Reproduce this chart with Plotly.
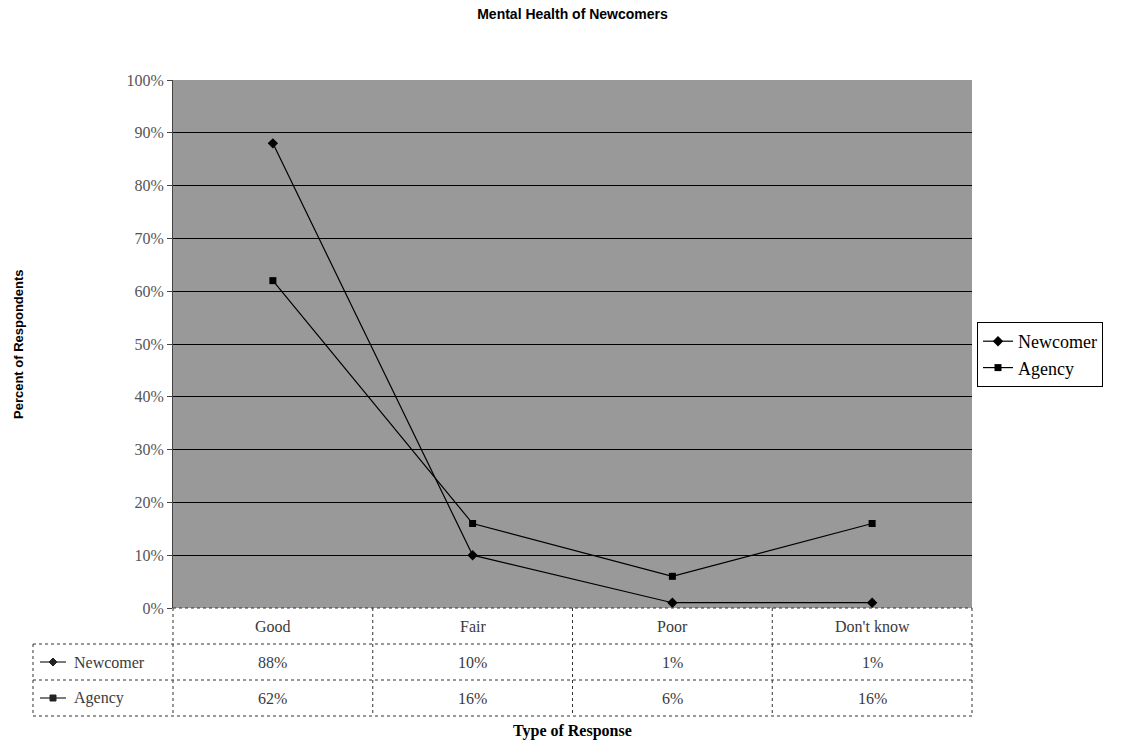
import plotly.graph_objects as go

categories = ["Good", "Fair", "Poor", "Don't know"]
newcomer = [88, 10, 1, 1]
agency = [62, 16, 6, 16]
series_names = ["Newcomer", "Agency"]
y_ticks = [0, 10, 20, 30, 40, 50, 60, 70, 80, 90, 100]

W, H = 1122, 742
L, R, T, B = 173, 972, 80, 608
PW, PH = R - L, B - T

def px(x):
    return (x - L) / PW

def py(y):
    return (B - y) / PH

serif = "Liberation Serif, Times New Roman, serif"
sans = "Liberation Sans, Arial, sans-serif"

fig = go.Figure()
xs = list(range(len(categories)))
fig.add_trace(go.Scatter(x=xs, y=newcomer, name=series_names[0], mode="lines+markers",
                         line=dict(color="black", width=1.2),
                         marker=dict(symbol="diamond", size=8, color="black")))
fig.add_trace(go.Scatter(x=xs, y=agency, name=series_names[1], mode="lines+markers",
                         line=dict(color="black", width=1.2),
                         marker=dict(symbol="square", size=7, color="black")))

shapes = []
annotations = []
bc = "#333333"
for y, x0 in [(644, 33), (680, 33), (716, 33)]:
    shapes.append(dict(type="line", xref="paper", yref="paper", x0=px(x0), x1=px(R),
                       y0=py(y), y1=py(y), line=dict(color=bc, width=1, dash="dot")))
shapes.append(dict(type="line", xref="paper", yref="paper", x0=px(L), x1=px(R),
                   y0=py(B), y1=py(B), line=dict(color=bc, width=1, dash="dot")))
ncol = len(categories)
colw = PW / ncol
for i in range(ncol + 1):
    x = L + i * colw
    shapes.append(dict(type="line", xref="paper", yref="paper", x0=px(x), x1=px(x),
                       y0=py(B), y1=py(716), line=dict(color=bc, width=1, dash="dot")))
shapes.append(dict(type="line", xref="paper", yref="paper", x0=px(33), x1=px(33),
                   y0=py(644), y1=py(716), line=dict(color=bc, width=1, dash="dot")))

tcol = "#3a3a3a"
tsize = 16
for i, c in enumerate(categories):
    annotations.append(dict(x=i, xref="x", y=py(626), yref="paper", yanchor="middle",
                            text=c, showarrow=False,
                            font=dict(family=serif, size=tsize, color=tcol)))
rows = [(newcomer, 662, "diamond"), (agency, 698, "square")]
for (vals, yc, sym), name in zip(rows, series_names):
    for i, v in enumerate(vals):
        annotations.append(dict(x=i, xref="x", y=py(yc), yref="paper", yanchor="middle",
                                text=f"{v}%", showarrow=False,
                                font=dict(family=serif, size=tsize, color=tcol)))
    annotations.append(dict(x=px(72), xref="paper", y=py(yc), yref="paper", yanchor="middle",
                            text=name, showarrow=False, xanchor="left",
                            font=dict(family=serif, size=tsize, color=tcol)))
    shapes.append(dict(type="line", xref="paper", yref="paper", x0=px(40), x1=px(66),
                       y0=py(yc), y1=py(yc), line=dict(color="#222", width=1.2)))
    if sym == "diamond":
        path = (f"M {px(53)},{py(yc-4)} L {px(57)},{py(yc)} L {px(53)},{py(yc+4)} "
                f"L {px(49)},{py(yc)} Z")
        shapes.append(dict(type="path", xref="paper", yref="paper", path=path,
                           fillcolor="#222", line=dict(color="#222", width=1)))
    else:
        shapes.append(dict(type="rect", xref="paper", yref="paper", x0=px(50), x1=px(56),
                           y0=py(yc+3), y1=py(yc-3), fillcolor="#222",
                           line=dict(color="#222", width=1)))

annotations.append(dict(x=px((L + R) / 2), xref="paper", y=py(731), yref="paper",
                        yanchor="middle", text="<b>Type of Response</b>", showarrow=False,
                        font=dict(family=serif, size=16, color="black")))
annotations.append(dict(x=px(18), xref="paper", y=py((T + B) / 2), yref="paper",
                        xanchor="center", yanchor="middle", textangle=-90,
                        text="<b>Percent of Respondents</b>", showarrow=False,
                        font=dict(family=sans, size=13, color="black")))

fig.update_layout(
    width=W, height=H,
    margin=dict(l=L, r=W - R, t=T, b=H - B),
    paper_bgcolor="white",
    plot_bgcolor="#999999",
    title=dict(text="<b>Mental Health of Newcomers</b>", x=(L + R) / 2 / W, xanchor="center",
               y=1 - 14 / H, yanchor="middle",
               font=dict(family=sans, size=14, color="black")),
    xaxis=dict(range=[-0.5, ncol - 0.5], showticklabels=False, showgrid=False,
               zeroline=False, showline=False, ticks=""),
    yaxis=dict(range=[0, 100], tickvals=y_ticks, ticktext=[f"{t}%" for t in y_ticks],
               showgrid=True, gridcolor="black", gridwidth=1, zeroline=False,
               showline=True, linecolor="#444", linewidth=1, ticks="outside", ticklen=5,
               tickcolor="#444",
               tickfont=dict(family=serif, size=16, color="#555")),
    legend=dict(x=px(977), y=py(322), xanchor="left", yanchor="top",
                bgcolor="white", bordercolor="black", borderwidth=1,
                font=dict(family=serif, size=18, color="black"),
                itemwidth=30, tracegroupgap=2),
    shapes=shapes, annotations=annotations,
    showlegend=True,
)

fig.write_html("out.html")
